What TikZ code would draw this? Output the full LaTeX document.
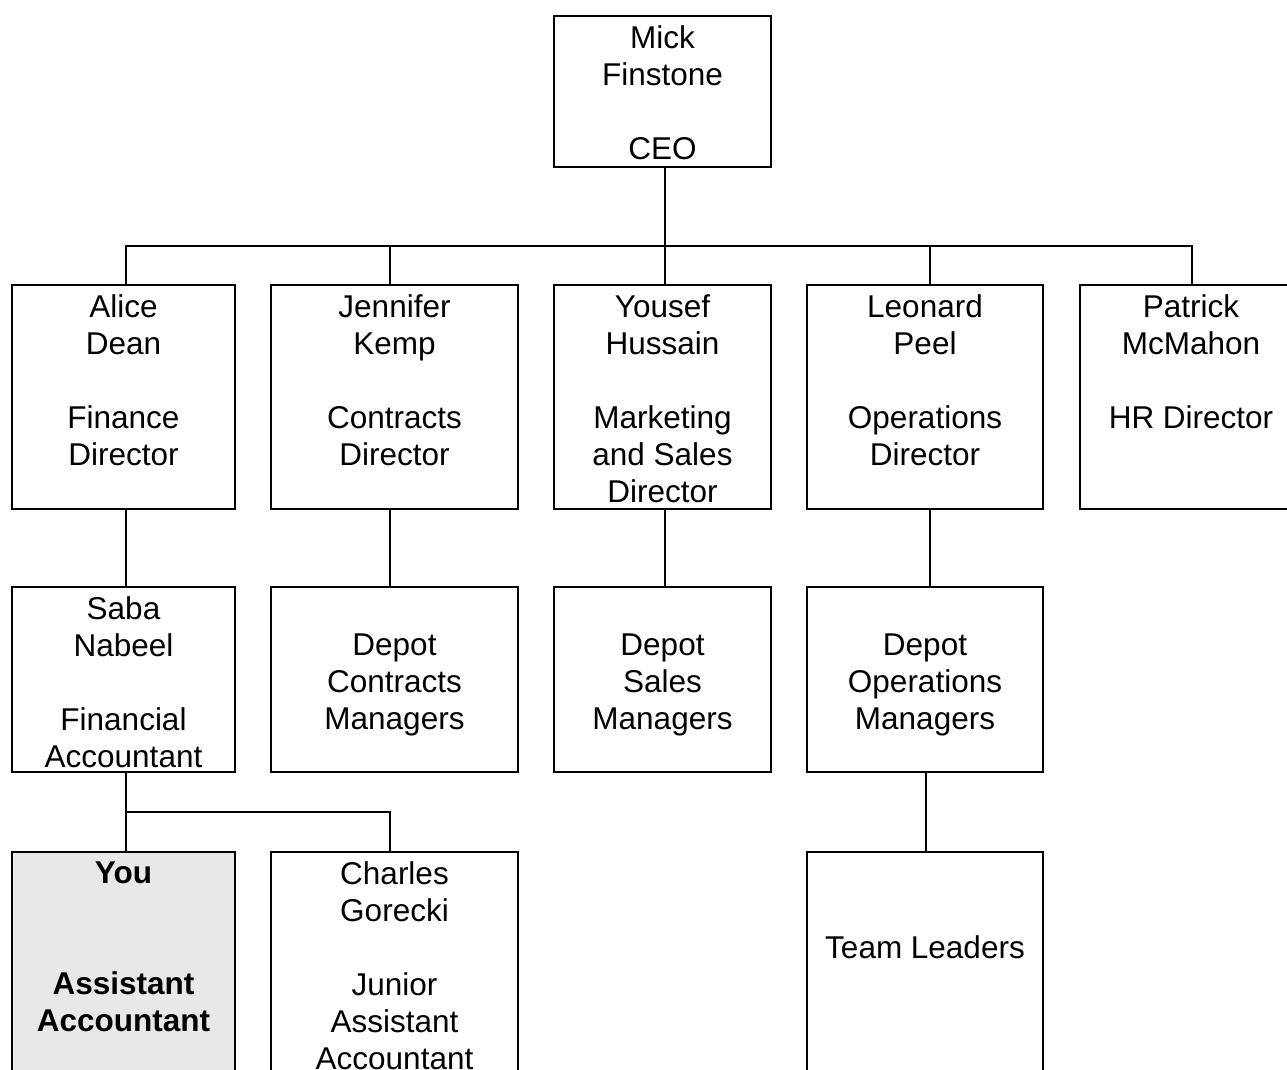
\documentclass[tikz,border=0pt]{standalone}
\usepackage{fontspec}
\setmainfont{Liberation Sans}
\definecolor{yougray}{RGB}{232,232,232}
\begin{document}
\begin{tikzpicture}[x=1pt,y=-1pt,
  box/.style={draw, line width=2pt, rectangle, inner sep=0pt, fill=white},
  txt/.style={align=center, inner sep=0pt, anchor=north, font=\fontsize{31.5}{37}\selectfont},
  conn/.style={draw, line width=2pt}]
\useasboundingbox (0,0) rectangle (1287,1070);
\clip (0,0) rectangle (1287,1070);
\fill[white] (0,0) rectangle (1287,1070);

% boxes
\node[box, minimum width=217pt, minimum height=151pt] (ceo) at (662.5,91.5) {};
\node[box, minimum width=223pt, minimum height=224pt] (alice) at (123.5,397) {};
\node[box, minimum width=247pt, minimum height=224pt] (jennifer) at (394.5,397) {};
\node[box, minimum width=217pt, minimum height=224pt] (yousef) at (662.5,397) {};
\node[box, minimum width=236pt, minimum height=224pt] (leonard) at (925,397) {};
\node[box, minimum width=222pt, minimum height=224pt] (patrick) at (1191,397) {};
\node[box, minimum width=223pt, minimum height=185pt] (saba) at (123.5,679.5) {};
\node[box, minimum width=247pt, minimum height=185pt] (dcon) at (394.5,679.5) {};
\node[box, minimum width=217pt, minimum height=185pt] (dsal) at (662.5,679.5) {};
\node[box, minimum width=236pt, minimum height=185pt] (dops) at (925,679.5) {};
\node[box, fill=yougray, minimum width=223pt, minimum height=224pt] (you) at (123.5,964) {};
\node[box, minimum width=247pt, minimum height=224pt] (charles) at (394.5,964) {};
\node[box, minimum width=236pt, minimum height=224pt] (team) at (925,964) {};

% texts
\node[txt] (ceot) at ([yshift=-10.5pt]ceo.north) {Mick\\Finstone\\[37pt]CEO};
\node[txt] (alicet) at ([yshift=-10.5pt]alice.north) {Alice\\Dean\\[37pt]Finance\\Director};
\node[txt] (jennifert) at ([yshift=-10.5pt]jennifer.north) {Jennifer\\Kemp\\[37pt]Contracts\\Director};
\node[txt] (yousept) at ([yshift=-10.5pt]yousef.north) {Yousef\\Hussain\\[37pt]Marketing\\and Sales\\Director};
\node[txt] (leonardt) at ([yshift=-10.5pt]leonard.north) {Leonard\\Peel\\[37pt]Operations\\Director};
\node[txt] (patrickt) at ([yshift=-10.5pt]patrick.north) {Patrick\\McMahon\\[37pt]HR Director};
\node[txt] (sabat) at ([yshift=-10.5pt]saba.north) {Saba\\Nabeel\\[37pt]Financial\\Accountant};
\node[txt] (dcont) at ([yshift=-47.5pt]dcon.north) {Depot\\Contracts\\Managers};
\node[txt] (dsalt) at ([yshift=-47.5pt]dsal.north) {Depot\\Sales\\Managers};
\node[txt] (dopst) at ([yshift=-47.5pt]dops.north) {Depot\\Operations\\Managers};
\node[txt, font=\fontsize{31.5}{37}\selectfont\bfseries] (yout) at ([yshift=-10.5pt]you.north) {You\\[74pt]Assistant\\Accountant};
\node[txt] (charlest) at ([yshift=-10.5pt]charles.north) {Charles\\Gorecki\\[37pt]Junior\\Assistant\\Accountant};
\node[txt] (teamt) at ([yshift=-84.5pt]team.north) {Team Leaders};

% connectors
\coordinate (bar) at (665,246);
\draw[conn] ([xshift=2.5pt]ceo.south) -- ([xshift=2.5pt]yousef.north);
\draw[conn] ([xshift=2.5pt]alice.north) |- (bar) -| ([xshift=1pt]patrick.north);
\draw[conn] ([xshift=-4.5pt]jennifer.north) -- ([xshift=-4.5pt]jennifer.north |- bar);
\draw[conn] ([xshift=5pt]leonard.north) -- ([xshift=5pt]leonard.north |- bar);

\draw[conn] ([xshift=2.5pt]alice.south) -- ([xshift=2.5pt]saba.north);
\draw[conn] ([xshift=-4.5pt]jennifer.south) -- ([xshift=-4.5pt]dcon.north);
\draw[conn] ([xshift=2.5pt]yousef.south) -- ([xshift=2.5pt]dsal.north);
\draw[conn] ([xshift=5pt]leonard.south) -- ([xshift=5pt]dops.north);

\coordinate (branch) at (126,812);
\draw[conn] ([xshift=2.5pt]saba.south) -- ([xshift=2.5pt]you.north);
\draw[conn] (branch) -| ([xshift=-4.5pt]charles.north);
\draw[conn] ([xshift=1pt]dops.south) -- ([xshift=1pt]team.north);
\end{tikzpicture}
\end{document}
